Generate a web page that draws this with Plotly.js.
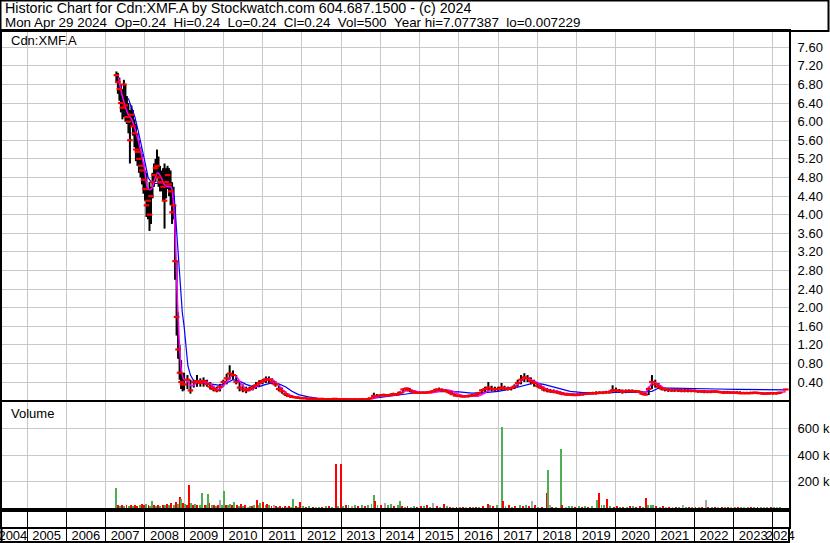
<!DOCTYPE html>
<html><head><meta charset="utf-8">
<script src="https://cdn.plot.ly/plotly-3.0.1.min.js"></script>
<style>html,body{margin:0;padding:0;background:#fff}#chart{width:830px;height:543px}</style>
</head><body><div id="chart"></div>
<script>
// ---- price data (date, high, low, close) ----
const pDates = ['2007-04-12','2007-04-26','2007-05-10','2007-05-24','2007-06-07','2007-06-21','2007-07-05','2007-07-19','2007-08-02','2007-08-16','2007-08-30','2007-09-13','2007-09-27','2007-10-11','2007-10-25','2007-11-08','2007-11-22','2007-12-06','2007-12-20',
'2008-01-03','2008-01-17','2008-01-31','2008-02-14','2008-02-28','2008-03-13','2008-03-27','2008-04-10','2008-04-24','2008-05-08','2008-05-22','2008-06-05','2008-06-19','2008-07-03','2008-07-17','2008-07-31','2008-08-14','2008-08-28','2008-09-11','2008-09-25','2008-10-09','2008-10-23','2008-11-06','2008-11-20','2008-12-04','2008-12-18',
'2009-01','2009-02','2009-03','2009-04','2009-05','2009-06','2009-07','2009-08','2009-09','2009-10','2009-11','2009-12',
'2010-01','2010-02','2010-03','2010-04','2010-05','2010-06','2010-07','2010-08','2010-09','2010-10','2010-11','2010-12',
'2011-01','2011-02','2011-03','2011-04','2011-05','2011-06','2011-07','2011-08','2011-09','2011-10','2011-11','2011-12',
'2012-01','2012-02','2012-03','2012-04','2012-05','2012-06','2012-07','2012-08','2012-09','2012-10','2012-11','2012-12',
'2013-01','2013-02','2013-03','2013-04','2013-05','2013-06','2013-07','2013-08','2013-09','2013-10','2013-11','2013-12',
'2014-01','2014-02','2014-03','2014-04','2014-05','2014-06','2014-07','2014-08','2014-09','2014-10','2014-11','2014-12',
'2015-01','2015-02','2015-03','2015-04','2015-05','2015-06','2015-07','2015-08','2015-09','2015-10','2015-11','2015-12',
'2016-01','2016-02','2016-03','2016-04','2016-05','2016-06','2016-07','2016-08','2016-09','2016-10','2016-11','2016-12',
'2017-01','2017-02','2017-03','2017-04','2017-05','2017-06','2017-07','2017-08','2017-09','2017-10','2017-11','2017-12',
'2018-01','2018-02','2018-03','2018-04','2018-05','2018-06','2018-07','2018-08','2018-09','2018-10','2018-11','2018-12',
'2019-01','2019-02','2019-03','2019-04','2019-05','2019-06','2019-07','2019-08','2019-09','2019-10','2019-11','2019-12',
'2020-01','2020-02','2020-03','2020-04','2020-05','2020-06','2020-07','2020-08','2020-09','2020-10','2020-11','2020-12',
'2021-01','2021-02','2021-03','2021-04','2021-05','2021-06','2021-07','2021-08','2021-09','2021-10','2021-11','2021-12',
'2022-01','2022-02','2022-03','2022-04','2022-05','2022-06','2022-07','2022-08','2022-09','2022-10','2022-11','2022-12',
'2023-01','2023-02','2023-03','2023-04','2023-05','2023-06','2023-07','2023-08','2023-09','2023-10','2023-11','2023-12',
'2024-01','2024-02','2024-03','2024-04-29'];
const pHigh = [7.08,7.05,6.95,6.80,6.70,6.90,6.80,6.55,6.40,6.25,6.35,6.25,6.05,5.95,5.75,5.60,5.45,5.30,5.10,
4.95,4.90,4.55,4.70,4.60,4.90,5.10,5.20,5.40,5.25,5.05,4.95,5.00,5.10,5.00,5.05,5.00,4.95,4.70,4.60,4.20,3.00,1.90,1.20,0.87,0.60,
0.60,0.55,0.45,0.45,0.55,0.48,0.50,0.45,0.40,0.32,0.30,0.36,
0.45,0.58,0.76,0.65,0.55,0.40,0.35,0.30,0.30,0.33,0.40,0.44,
0.46,0.52,0.52,0.48,0.42,0.35,0.28,0.20,0.15,0.12,0.10,0.09,
0.07,0.06,0.06,0.05,0.05,0.05,0.05,0.04,0.04,0.04,0.05,0.04,
0.04,0.04,0.04,0.03,0.04,0.03,0.04,0.04,0.05,0.06,0.17,0.14,
0.14,0.15,0.14,0.15,0.17,0.16,0.20,0.26,0.28,0.27,0.22,0.20,
0.19,0.19,0.19,0.20,0.22,0.26,0.28,0.26,0.25,0.22,0.18,0.15,
0.13,0.12,0.12,0.13,0.14,0.15,0.18,0.25,0.30,0.40,0.32,0.30,
0.30,0.38,0.32,0.30,0.30,0.35,0.45,0.55,0.59,0.55,0.50,0.45,
0.40,0.35,0.30,0.27,0.25,0.24,0.22,0.20,0.18,0.17,0.16,0.16,
0.16,0.17,0.17,0.18,0.18,0.19,0.20,0.20,0.20,0.21,0.22,0.33,
0.28,0.25,0.24,0.24,0.24,0.24,0.23,0.22,0.20,0.18,0.30,0.55,
0.45,0.38,0.30,0.28,0.27,0.26,0.26,0.26,0.25,0.25,0.25,0.24,
0.24,0.23,0.23,0.23,0.22,0.22,0.22,0.22,0.21,0.21,0.21,0.20,
0.20,0.20,0.20,0.19,0.19,0.19,0.19,0.19,0.18,0.18,0.18,0.18,
0.18,0.18,0.19,0.24];
const pLow = [6.85,6.60,6.45,6.20,6.05,6.10,6.00,5.95,5.75,5.10,5.90,5.70,5.45,5.15,5.05,4.90,4.80,4.65,4.45,
4.30,3.95,3.90,3.65,3.80,4.35,4.60,4.70,4.80,4.60,4.50,4.50,4.30,3.70,4.35,4.55,4.40,4.20,3.80,3.90,2.60,1.40,0.90,0.45,0.25,0.20,
0.22,0.25,0.15,0.28,0.30,0.30,0.30,0.30,0.24,0.20,0.18,0.20,
0.30,0.35,0.45,0.45,0.35,0.20,0.18,0.16,0.20,0.22,0.25,0.30,
0.35,0.38,0.38,0.35,0.30,0.20,0.15,0.10,0.08,0.06,0.05,0.04,
0.04,0.04,0.03,0.03,0.03,0.02,0.03,0.02,0.02,0.02,0.02,0.02,
0.02,0.02,0.02,0.01,0.02,0.01,0.02,0.02,0.02,0.03,0.05,0.06,
0.08,0.09,0.09,0.10,0.11,0.11,0.13,0.16,0.20,0.18,0.16,0.15,
0.15,0.15,0.15,0.16,0.17,0.19,0.20,0.19,0.18,0.15,0.12,0.09,
0.08,0.07,0.07,0.07,0.08,0.09,0.12,0.15,0.18,0.20,0.20,0.20,
0.20,0.22,0.22,0.22,0.22,0.25,0.30,0.35,0.40,0.40,0.35,0.30,
0.28,0.25,0.20,0.18,0.17,0.16,0.15,0.13,0.12,0.11,0.11,0.10,
0.10,0.11,0.11,0.12,0.13,0.13,0.13,0.14,0.14,0.15,0.15,0.16,
0.17,0.17,0.15,0.16,0.17,0.17,0.17,0.16,0.12,0.11,0.12,0.25,
0.28,0.25,0.22,0.20,0.19,0.19,0.19,0.19,0.18,0.18,0.18,0.18,
0.18,0.17,0.17,0.16,0.16,0.16,0.17,0.17,0.16,0.15,0.15,0.15,
0.15,0.15,0.14,0.14,0.14,0.14,0.14,0.14,0.14,0.13,0.13,0.13,
0.13,0.13,0.14,0.24];
const pClose = [7.00,6.85,6.70,6.40,6.30,6.80,6.35,6.10,6.00,5.60,6.15,5.90,5.75,5.40,5.35,5.20,5.05,4.95,4.75,
4.55,4.20,4.30,4.00,4.40,4.70,4.85,5.00,5.05,4.80,4.70,4.70,4.60,4.30,4.70,4.85,4.65,4.50,4.05,4.20,3.00,1.80,1.10,0.60,0.40,0.35,
0.35,0.45,0.22,0.40,0.42,0.38,0.42,0.36,0.30,0.25,0.22,0.30,
0.40,0.48,0.58,0.55,0.40,0.28,0.24,0.22,0.25,0.28,0.33,0.38,
0.42,0.46,0.45,0.40,0.35,0.25,0.20,0.14,0.10,0.08,0.07,0.06,
0.05,0.05,0.04,0.04,0.04,0.03,0.04,0.03,0.03,0.03,0.04,0.03,
0.03,0.03,0.03,0.02,0.03,0.02,0.03,0.03,0.03,0.05,0.10,0.10,
0.11,0.12,0.11,0.12,0.14,0.13,0.17,0.24,0.26,0.22,0.19,0.17,
0.17,0.17,0.17,0.18,0.20,0.23,0.24,0.22,0.21,0.18,0.14,0.11,
0.10,0.09,0.09,0.10,0.11,0.12,0.16,0.22,0.25,0.28,0.25,0.24,
0.25,0.28,0.26,0.25,0.27,0.30,0.38,0.45,0.50,0.48,0.42,0.38,
0.32,0.28,0.24,0.22,0.20,0.19,0.18,0.16,0.14,0.13,0.13,0.12,
0.12,0.13,0.14,0.15,0.15,0.16,0.16,0.17,0.17,0.18,0.18,0.22,
0.22,0.21,0.19,0.20,0.21,0.20,0.20,0.19,0.15,0.13,0.25,0.40,
0.35,0.30,0.26,0.24,0.23,0.22,0.22,0.23,0.21,0.21,0.22,0.21,
0.21,0.20,0.20,0.19,0.19,0.19,0.20,0.19,0.18,0.17,0.18,0.17,
0.17,0.17,0.16,0.16,0.16,0.16,0.17,0.17,0.16,0.15,0.15,0.16,
0.16,0.16,0.17,0.24];

// ---- moving averages ----
const maShortDates = ['2007-05-01','2007-06-01','2007-07-01','2007-08-01','2007-09-01','2007-10-01','2007-11-01','2007-12-01','2008-01-01','2008-02-01','2008-03-01','2008-04-01','2008-05-01','2008-06-01','2008-07-01','2008-08-01','2008-09-01','2008-09-20','2008-10-10','2008-10-25','2008-11-10','2008-11-25','2008-12-10',
'2009-01-01','2009-02-01','2009-03-01','2009-04-01','2009-05-01','2009-06-01','2009-07-01','2009-08-01','2009-09-01','2009-10-01','2009-11-01','2009-12-01',
'2010-01-01','2010-02-01','2010-03-01','2010-04-01','2010-05-01','2010-06-01','2010-07-01','2010-08-01','2010-09-01','2010-10-01','2010-11-01','2010-12-01',
'2011-01-01','2011-02-01','2011-03-01','2011-04-01','2011-05-01','2011-06-01','2011-07-01','2011-08-01','2011-09-01','2011-10-01','2011-11-01','2011-12-01',
'2012-03-01','2012-06-01','2012-09-01','2012-12-01','2013-03-01','2013-06-01','2013-09-01','2013-11-01',
'2014-01-01','2014-03-01','2014-05-01','2014-07-01','2014-09-01','2014-11-01','2015-01-01','2015-03-01','2015-05-01','2015-07-01','2015-09-01','2015-11-01',
'2016-01-01','2016-03-01','2016-05-01','2016-07-01','2016-09-01','2016-11-01','2017-01-01','2017-03-01','2017-05-01','2017-07-01','2017-09-01','2017-11-01',
'2018-01-01','2018-03-01','2018-05-01','2018-07-01','2018-09-01','2018-11-01','2019-01-01','2019-04-01','2019-07-01','2019-10-01',
'2020-01-01','2020-04-01','2020-07-01','2020-10-01','2020-12-15','2021-02-01','2021-04-01','2021-07-01','2021-10-01',
'2022-01-01','2022-04-01','2022-07-01','2022-10-01','2023-01-01','2023-04-01','2023-07-01','2023-10-01','2024-01-01','2024-04-29'];
const maShort = [6.95,6.60,6.35,6.15,6.05,5.85,5.60,5.30,4.95,4.55,4.55,4.75,4.90,4.80,4.65,4.60,4.60,4.35,3.60,2.50,1.60,0.95,0.60,
0.45,0.42,0.33,0.33,0.40,0.42,0.40,0.40,0.36,0.30,0.25,0.25,
0.32,0.40,0.48,0.56,0.52,0.42,0.32,0.25,0.23,0.25,0.30,0.35,
0.40,0.43,0.47,0.45,0.40,0.33,0.25,0.18,0.13,0.10,0.08,0.06,
0.05,0.04,0.035,0.035,0.03,0.03,0.035,0.05,
0.10,0.11,0.12,0.15,0.22,0.22,0.18,0.17,0.17,0.20,0.23,0.21,
0.14,0.10,0.10,0.10,0.17,0.25,0.25,0.27,0.27,0.35,0.48,0.45,
0.38,0.28,0.22,0.20,0.16,0.14,0.14,0.15,0.16,0.18,
0.22,0.20,0.20,0.18,0.40,0.35,0.26,0.23,0.22,
0.21,0.20,0.20,0.18,0.18,0.17,0.17,0.16,0.16,0.19];
const maLongDates = ['2007-08-01','2007-09-01','2007-10-01','2007-11-01','2007-12-01','2008-01-01','2008-02-01','2008-03-01','2008-04-01','2008-05-01','2008-06-01','2008-07-01','2008-08-01','2008-09-01','2008-10-01','2008-10-20','2008-11-10','2008-12-01','2008-12-15','2009-01-01','2009-01-20','2009-02-05','2009-03-01','2009-04-01',
'2009-06-01','2009-08-01','2009-10-01','2009-12-01','2010-02-01','2010-04-01','2010-06-01','2010-08-01','2010-10-01','2010-12-01','2011-02-01','2011-04-01','2011-06-01','2011-08-01','2011-10-01','2011-12-01',
'2012-03-01','2012-06-01','2012-09-01','2013-01-01','2013-06-01','2013-10-01','2014-01-01','2014-04-01','2014-07-01','2014-10-01','2015-01-01','2015-05-01','2015-09-01','2016-01-01','2016-05-01','2016-09-01',
'2017-01-01','2017-05-01','2017-09-01','2017-12-01','2018-03-01','2018-07-01','2018-11-01','2019-03-01','2019-07-01','2019-11-01','2020-03-01','2020-08-01','2020-12-01','2021-02-01','2021-06-01','2021-10-01',
'2022-02-01','2022-08-01','2023-02-01','2023-08-01','2024-01-01','2024-04-29'];
const maLong = [6.50,6.30,6.10,5.80,5.50,5.15,4.80,4.70,4.67,4.67,4.67,4.67,4.63,4.60,4.40,3.80,3.10,2.50,1.90,1.60,1.10,0.75,0.55,0.42,
0.38,0.37,0.35,0.33,0.38,0.45,0.42,0.35,0.30,0.30,0.35,0.38,0.36,0.30,0.20,0.13,
0.08,0.05,0.045,0.04,0.035,0.04,0.07,0.10,0.13,0.16,0.18,0.19,0.20,0.19,0.16,0.17,
0.20,0.25,0.33,0.38,0.35,0.28,0.20,0.17,0.17,0.17,0.18,0.18,0.20,0.27,0.27,0.26,
0.25,0.25,0.24,0.24,0.24,0.23];

// ---- volume (thousands of shares), direction: g = up, r = down, n = unchanged ----
const vDates = ['2007-04-12','2007-04-28','2007-05-15','2007-06-05','2007-06-25','2007-07-15','2007-08-05','2007-08-25','2007-09-15','2007-10-05','2007-10-25','2007-11-15','2007-12-05','2007-12-25',
'2008-01-15','2008-02-05','2008-02-20','2008-03-12','2008-03-28','2008-04-15','2008-05-05','2008-05-25','2008-06-15','2008-07-05','2008-07-25','2008-08-15','2008-09-05','2008-09-25','2008-10-15','2008-11-05','2008-11-20','2008-12-05','2008-12-20',
'2009-01-10','2009-01-28','2009-02-17','2009-03-05','2009-03-25','2009-04-15','2009-05-05','2009-05-25','2009-06-20','2009-07-10','2009-07-28','2009-08-08','2009-08-25','2009-09-15','2009-10-05','2009-10-25','2009-11-15','2009-12-01','2009-12-20',
'2010-01-08','2010-01-25','2010-02-15','2010-03-05','2010-03-25','2010-04-12','2010-05-05','2010-05-25','2010-06-15','2010-07-05','2010-07-25','2010-08-15','2010-09-05','2010-09-25','2010-10-15','2010-11-10','2010-11-25','2010-12-12',
'2011-01-08','2011-01-28','2011-02-15','2011-03-05','2011-03-25','2011-04-15','2011-05-05','2011-05-25','2011-06-15','2011-07-05','2011-07-25','2011-08-15','2011-09-05','2011-09-25','2011-10-12','2011-11-05','2011-11-25','2011-12-12',
'2012-01-10','2012-02-10','2012-03-10','2012-04-10','2012-05-10','2012-06-10','2012-07-10','2012-08-10','2012-09-10','2012-10-10','2012-11-14','2012-12-05','2012-12-28',
'2013-01-20','2013-02-15','2013-03-10','2013-04-10','2013-05-10','2013-06-10','2013-07-10','2013-08-10','2013-09-10','2013-10-10','2013-11-01','2013-11-10','2013-12-05',
'2014-01-10','2014-02-10','2014-03-10','2014-04-10','2014-05-10','2014-06-10','2014-07-01','2014-07-25','2014-08-15','2014-09-10','2014-10-10','2014-11-10','2014-12-10',
'2015-01-10','2015-02-10','2015-03-10','2015-04-10','2015-05-05','2015-06-10','2015-07-10','2015-08-15','2015-09-10','2015-10-10','2015-11-10','2015-12-10',
'2016-01-10','2016-02-10','2016-03-10','2016-04-10','2016-05-10','2016-06-10','2016-07-10','2016-08-10','2016-09-28','2016-10-15','2016-11-10','2016-12-18',
'2017-02-06','2017-02-14','2017-03-10','2017-04-10','2017-05-10','2017-06-10','2017-07-20','2017-08-20','2017-09-20','2017-10-15','2017-11-12','2017-12-10',
'2018-01-10','2018-02-10','2018-03-28','2018-04-08','2018-04-25','2018-05-20','2018-06-20','2018-08-08','2018-08-15','2018-09-20','2018-10-20','2018-11-20','2018-12-20',
'2019-01-20','2019-02-20','2019-03-20','2019-04-20','2019-05-20','2019-07-10','2019-07-27','2019-08-20','2019-09-15','2019-10-10','2019-11-10','2019-12-10',
'2020-01-10','2020-02-10','2020-03-10','2020-04-10','2020-05-10','2020-06-10','2020-07-10','2020-08-10','2020-09-10','2020-10-08','2020-10-28','2020-11-20','2020-12-15',
'2021-01-10','2021-02-10','2021-03-10','2021-04-10','2021-05-10','2021-06-10','2021-07-10','2021-08-10','2021-09-12','2021-10-10','2021-11-10','2021-12-10',
'2022-01-10','2022-02-10','2022-03-10','2022-04-20','2022-05-10','2022-06-10','2022-07-10','2022-08-10','2022-09-10','2022-10-10','2022-11-10','2022-12-10',
'2023-01-10','2023-02-10','2023-03-10','2023-04-10','2023-05-10','2023-06-10','2023-07-10','2023-08-10','2023-09-10','2023-10-10','2023-11-10','2023-12-10',
'2024-01-10','2024-02-10','2024-03-10','2024-04-29'];
const vVals = [150,20,15,25,12,20,15,25,18,22,15,25,30,20,
28,20,15,55,20,18,25,15,20,25,30,20,35,25,45,30,85,70,40,
30,25,175,40,25,30,20,25,115,25,20,105,40,20,25,15,20,60,25,
130,20,25,30,20,45,25,15,30,15,20,10,15,12,20,60,25,40,
45,20,30,25,15,20,15,10,15,10,12,10,15,10,70,15,10,45,
15,10,12,8,10,8,10,12,15,10,330,15,330,
15,20,25,15,20,15,20,15,25,30,100,55,20,
25,40,25,30,15,20,55,15,10,12,10,15,10,
12,15,20,10,40,15,10,30,12,10,8,10,
8,10,8,10,8,10,8,12,30,20,15,20,
610,55,15,20,10,15,20,15,20,15,55,20,
10,8,115,290,25,10,8,445,20,10,15,12,10,
12,10,15,10,15,60,115,20,25,70,15,10,
15,8,10,8,12,15,10,15,10,75,20,20,20,
15,10,15,8,10,8,8,6,20,8,6,5,
6,5,8,60,10,6,8,5,6,5,6,5,
6,5,6,5,6,5,8,5,6,5,6,5,
6,5,6,3];
const vDir = ['g','r','g','r','g','r','g','r','g','r','r','g','r','r',
'g','r','g','g','r','g','r','g','r','g','r','g','r','g','r','g','r','g','r',
'g','r','r','g','r','g','r','g','g','r','g','g','r','g','r','g','r','n','g',
'g','r','g','g','r','g','r','g','r','g','r','n','g','r','g','r','g','g',
'r','g','r','g','r','n','r','g','r','g','r','n','r','g','g','r','g','r',
'g','r','g','r','n','g','r','g','r','g','r','g','r',
'g','r','g','n','g','r','g','r','g','g','g','r','g',
'r','n','g','g','r','g','g','r','g','r','n','g','r',
'r','g','r','g','n','r','g','r','g','r','n','r',
'g','r','n','r','g','r','g','r','r','g','r','g',
'g','r','g','r','g','r','g','r','g','r','n','r',
'g','r','r','g','n','r','g','g','r','n','g','g','r',
'g','r','g','r','g','g','r','g','g','r','g','r',
'r','g','r','g','r','g','r','r','g','r','g','g','g',
'r','g','r','n','r','g','r','g','n','g','r','g',
'r','g','r','n','r','g','r','n','r','g','r','n',
'g','r','g','n','g','r','g','r','g','n','g','r',
'g','n','g','n'];

const yearLabels = ['2004','2005','2006','2007','2008','2009','2010','2011','2012','2013','2014','2015','2016','2017','2018','2019','2020','2021','2022','2023','2024'];
const yearLabelPos = ['2004-08-22','2005-07-02','2006-07-02','2007-07-02','2008-07-02','2009-07-02','2010-07-02','2011-07-02','2012-07-02','2013-07-02','2014-07-02','2015-07-02','2016-07-02','2017-07-02','2018-07-02','2019-07-02','2020-07-02','2021-07-02','2022-07-02','2023-07-02','2024-03-08'];
const priceTicks = [0.4,0.8,1.2,1.6,2.0,2.4,2.8,3.2,3.6,4.0,4.4,4.8,5.2,5.6,6.0,6.4,6.8,7.2,7.6];
const volTicks = [200000,400000,600000];
const volTickText = ['200 k','400 k','600 k'];

// ---- build traces ----
const hlX = [], hlY = [];
pDates.forEach((d,i)=>{hlX.push(d,d,null); hlY.push(pLow[i],pHigh[i],null);});
const volColor = {g:'#4caf50', r:'#ff0000', n:'#a8a8a8'};

const FONT = 'Liberation Sans, Arial, sans-serif';
const traces = [
  {x:hlX, y:hlY, type:'scatter', mode:'lines', line:{color:'#000', width:2}, xaxis:'x', yaxis:'y', hoverinfo:'skip'},
  {x:maLongDates, y:maLong, type:'scatter', mode:'lines', line:{color:'#0000ff', width:1.2, shape:'linear'}, xaxis:'x', yaxis:'y'},
  {x:maShortDates, y:maShort, type:'scatter', mode:'lines', line:{color:'#ff00ff', width:1.5, shape:'spline'}, xaxis:'x', yaxis:'y'},
  {x:pDates, y:pClose, type:'scatter', mode:'markers', marker:{symbol:'line-ew', size:4, line:{color:'#ff0000', width:2.2}}, xaxis:'x', yaxis:'y'},
  {x:vDates, y:vVals.map(v=>v*1000), type:'bar', marker:{color:vDir.map(d=>volColor[d]), line:{width:0}}, width:18*86400000, xaxis:'x2', yaxis:'y2'},
  {x:[], y:[], type:'scatter', xaxis:'x3', yaxis:'y3'}
];

const xr = ['2004-05-13','2024-05-29'];
const gridC = '#c8c8c8';
// plot area: x 2..789 px, y 31..527 px
const layout = {
  width:830, height:543,
  margin:{l:2, r:41, t:31, b:16},
  paper_bgcolor:'#fff', plot_bgcolor:'#fff',
  showlegend:false,
  font:{family:FONT, size:13, color:'#000'},
  bargap:0,
  xaxis:{type:'date', range:xr, domain:[0,1], anchor:'y', showticklabels:false, ticks:'',
    tick0:'2005-01-01', dtick:'M12', showgrid:true, gridcolor:gridC, gridwidth:1,
    showline:true, linecolor:'#000', linewidth:2, mirror:true, zeroline:false},
  yaxis:{domain:[0.256,1], range:[0.013,7.95], side:'right', anchor:'x', tickvals:priceTicks, tickformat:'.2f',
    showgrid:true, gridcolor:gridC, gridwidth:1, ticks:'', ticklabelstandoff:4, zeroline:false,
    showline:true, linecolor:'#000', linewidth:2, mirror:true},
  xaxis2:{type:'date', range:xr, matches:'x', domain:[0,1], anchor:'y2', showticklabels:false, ticks:'',
    tick0:'2005-01-01', dtick:'M12', showgrid:true, gridcolor:gridC, gridwidth:1,
    showline:true, linecolor:'#000', linewidth:2, mirror:true, zeroline:false},
  yaxis2:{domain:[0.0343,0.252], range:[-15000,800000], side:'right', anchor:'x2', tickvals:volTicks, ticktext:volTickText,
    showgrid:true, gridcolor:gridC, gridwidth:1, ticks:'', ticklabelstandoff:4, zeroline:false,
    showline:true, linecolor:'#000', linewidth:2, mirror:true},
  xaxis3:{type:'date', range:xr, matches:'x', domain:[0,1], anchor:'y3', tickvals:yearLabelPos, ticktext:yearLabels,
    ticks:'', showgrid:false, tickangle:0, ticklabeloverflow:'allow', tickfont:{family:FONT, size:13, color:'#000'}, ticklabelstandoff:-5,
    minor:{tick0:'2005-01-01', dtick:'M12', showgrid:true, gridcolor:'#000', gridwidth:1, ticks:'outside', ticklen:16, tickcolor:'#000', tickwidth:1},
    showline:true, linecolor:'#000', linewidth:2, mirror:true, zeroline:false},
  yaxis3:{domain:[0,0.0343], range:[0,17], anchor:'x3', side:'right', showticklabels:false, ticks:'',
    showgrid:false, zeroline:false,
    showline:true, linecolor:'#000', linewidth:2, mirror:true},
  shapes:[
    {type:'rect', xref:'paper', yref:'paper', x0:-0.0019, x1:1.0502, y0:1, y1:1.0615, line:{color:'#000', width:2}, fillcolor:'rgba(0,0,0,0)'},
    {type:'line', xref:'paper', yref:'paper', x0:-0.0025, x1:1.0013, y0:-0.0302, y1:-0.0302, line:{color:'#000', width:2}},
    {type:'line', xref:'paper', yref:'paper', x0:-0.0006, x1:-0.0006, y0:0, y1:-0.04, line:{color:'#000', width:2}},
    {type:'line', xref:'paper', yref:'paper', x0:1, x1:1, y0:0, y1:-0.04, line:{color:'#000', width:2}}
  ],
  annotations:[
    {xref:'paper', yref:'paper', x:0.0013, y:1.0464, xanchor:'left', yanchor:'middle', showarrow:false,
      text:'Historic Chart for Cdn:XMF.A by Stockwatch.com 604.687.1500 - (c) 2024', font:{family:FONT, size:14.3, color:'#000'}},
    {xref:'paper', yref:'paper', x:0.0013, y:1.0181, xanchor:'left', yanchor:'middle', showarrow:false,
      text:'Mon Apr 29 2024\u00a0\u00a0Op=0.24\u00a0\u00a0Hi=0.24\u00a0\u00a0Lo=0.24\u00a0\u00a0Cl=0.24\u00a0\u00a0Vol=500\u00a0\u00a0Year hi=7.077387\u00a0\u00a0lo=0.007229', font:{family:FONT, size:13.4, color:'#000'}},
    {xref:'paper', yref:'paper', x:0.0089, y:0.980, xanchor:'left', yanchor:'middle', showarrow:false,
      text:'Cdn:XMF.A', font:{family:FONT, size:13, color:'#000'}},
    {xref:'paper', yref:'paper', x:0.0089, y:0.2298, xanchor:'left', yanchor:'middle', showarrow:false,
      text:'Volume', font:{family:FONT, size:13, color:'#000'}}
  ]
};
Plotly.newPlot('chart', traces, layout, {staticPlot:true, displayModeBar:false});
</script></body></html>
